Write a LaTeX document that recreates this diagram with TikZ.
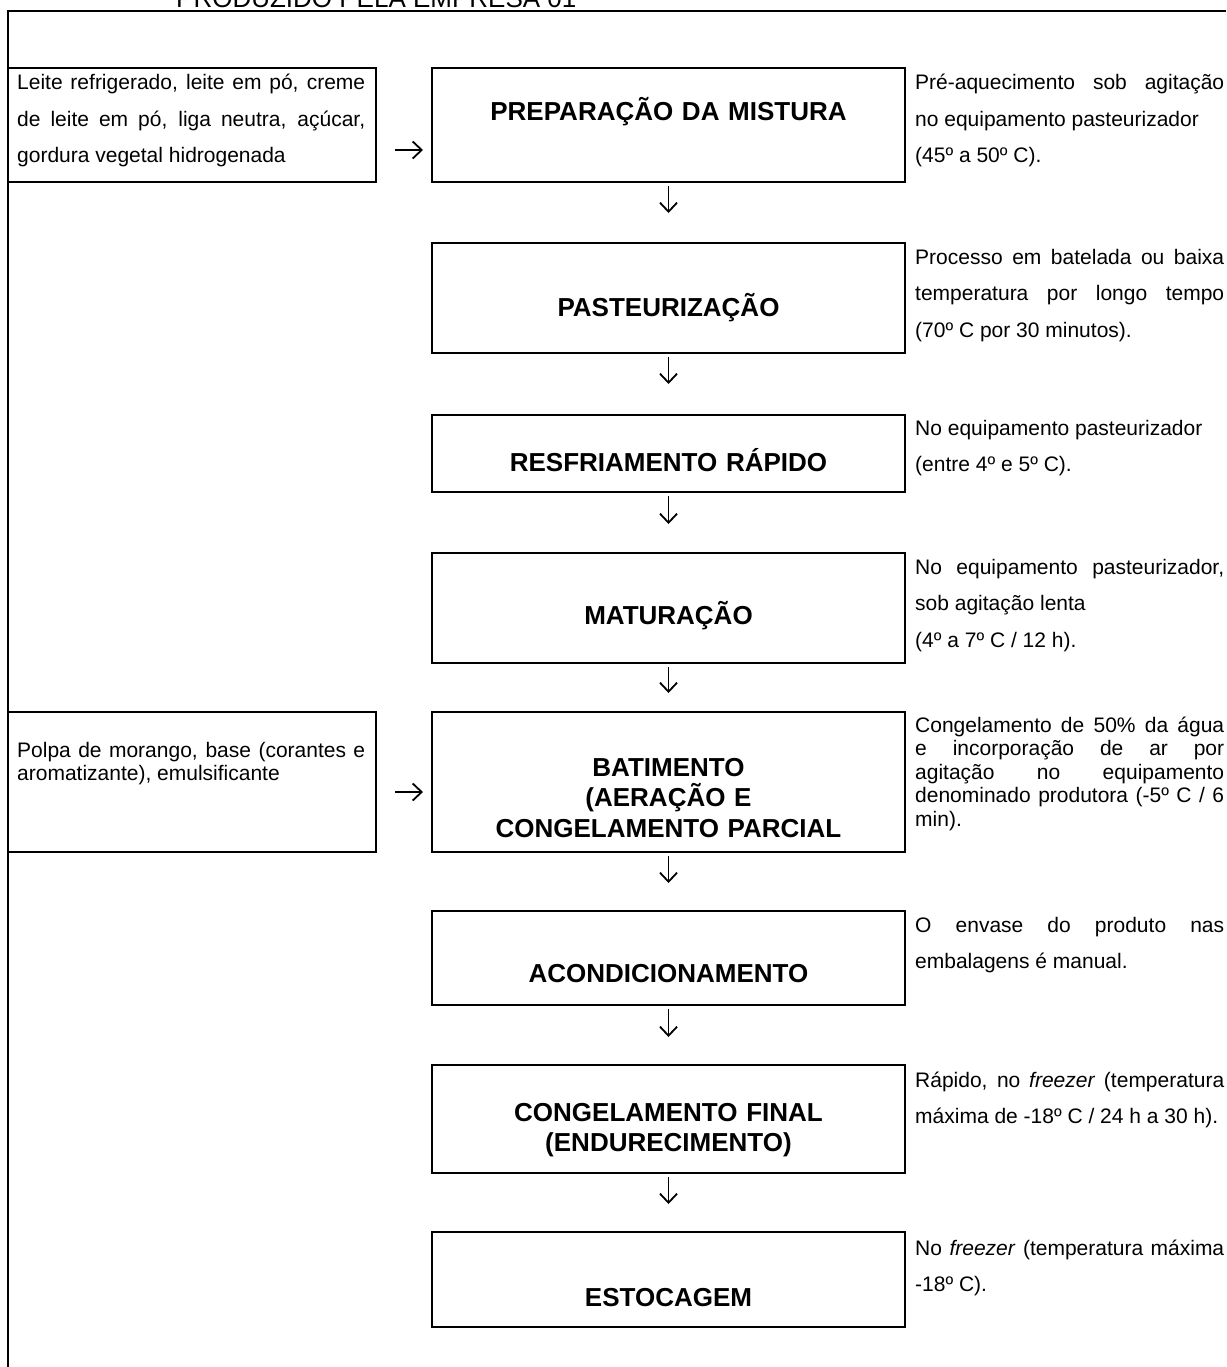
\documentclass[tikz,border=0pt]{standalone}
\usepackage{fontspec}
\setmainfont{Liberation Sans}
\usetikzlibrary{arrows.meta,calc}

% full-width lines of the justified side notes (word spaces may stretch)
\newcommand\justR[1]{\makebox[309pt][s]{\spaceskip=0pt\xspaceskip=0pt\relax#1}}
\newcommand\justL[1]{\makebox[348pt][s]{\spaceskip=0pt\xspaceskip=0pt\relax#1}}

\begin{document}
\begin{tikzpicture}[x=1pt,y=-1pt,
  framepen/.style={line width=2pt},
  stepbox/.style={draw, line width=2pt, minimum width=473pt, inner sep=0pt},
  inbox/.style={draw, line width=2pt, minimum width=368pt, inner sep=0pt},
  steptext/.style={font=\fontsize{26}{30.5}\selectfont\bfseries, text width=473pt,
    align=center, anchor=base, inner sep=0pt},
  notewide/.style={font=\fontsize{21}{36.5}\selectfont, text width=309pt,
    align=justify, anchor=base west, inner sep=0pt},
  notetight/.style={font=\fontsize{21}{23.5}\selectfont, text width=309pt,
    align=justify, anchor=base west, inner sep=0pt},
  inwide/.style={font=\fontsize{21}{36.5}\selectfont, text width=348pt,
    align=justify, anchor=base west, inner sep=0pt},
  intight/.style={font=\fontsize{21}{23.5}\selectfont, text width=348pt,
    align=justify, anchor=base west, inner sep=0pt},
  darr/.style={-{Straight Barb[length=9pt,width=17pt]}, line width=1.8pt, shorten <=3pt},
  harr/.style={-{Straight Barb[length=9pt,width=17pt]}, line width=1.8pt,
    shorten <=18pt, shorten >=8pt}]

\useasboundingbox (0,0) rectangle (1226,1367);

% page heading and outer frame
\node[anchor=base west, inner sep=0pt, font=\fontsize{26}{30}\selectfont]
  (heading) at (176,8) {PRODUZIDO PELA EMPRESA 01};
\coordinate (fr) at (1226,11);
\coordinate (fl) at (8,11);
\coordinate (fb) at (8,1367);
\draw[framepen] (fr) -- (fl) -- (fb);

% process steps
\node[stepbox, minimum height=114pt] (b1) at (668.5,125) {};
\node[stepbox, minimum height=110pt] (b2) at (668.5,298) {};
\node[stepbox, minimum height=77pt]  (b3) at (668.5,453.5) {};
\node[stepbox, minimum height=110pt] (b4) at (668.5,608) {};
\node[stepbox, minimum height=140pt] (b5) at (668.5,782) {};
\node[stepbox, minimum height=94pt]  (b6) at (668.5,958) {};
\node[stepbox, minimum height=108pt] (b7) at (668.5,1119) {};
\node[stepbox, minimum height=95pt]  (b8) at (668.5,1279.5) {};

\node[steptext] (t1) at (668.5,121) {PREPARAÇÃO DA MISTURA};
\node[steptext] (t2) at (668.5,316) {PASTEURIZAÇÃO};
\node[steptext] (t3) at (668.5,471) {RESFRIAMENTO RÁPIDO};
\node[steptext] (t4) at (668.5,624) {MATURAÇÃO};
\node[steptext] (t5) at (668.5,776) {BATIMENTO\\(AERAÇÃO E\\CONGELAMENTO PARCIAL};
\node[steptext] (t6) at (668.5,982) {ACONDICIONAMENTO};
\node[steptext] (t7) at (668.5,1121) {CONGELAMENTO FINAL\\(ENDURECIMENTO)};
\node[steptext] (t8) at (668.5,1306) {ESTOCAGEM};

% ingredient boxes
\node[inbox, minimum height=114pt] (lb1) at (192,125) {};
\node[inbox, minimum height=140pt] (lb2) at (192,782) {};
\node[inwide] (l1) at (17,90)
  {\justL{Leite refrigerado, leite em pó, creme}\\
   \justL{de leite em pó, liga neutra, açúcar,}\\
   gordura vegetal hidrogenada};
\node[intight] (l2) at (17,757)
  {\justL{Polpa de morango, base (corantes e}\\
   aromatizante), emulsificante};

% process conditions
\node[notewide] (r1) at (915,90)
  {\justR{Pré-aquecimento sob agitação}\\
   no equipamento pasteurizador\\
   (45º a 50º C).};
\node[notewide] (r2) at (915,264)
  {\justR{Processo em batelada ou baixa}\\
   \justR{temperatura por longo tempo}\\
   (70º C por 30 minutos).};
\node[notewide] (r3) at (915,435)
  {No equipamento pasteurizador\\
   (entre 4º e 5º C).};
\node[notewide] (r4) at (915,574)
  {\justR{No equipamento pasteurizador,}\\
   sob agitação lenta\\
   (4º a 7º C / 12 h).};
\node[notetight] (r5) at (915,732)
  {\justR{Congelamento de 50\% da água}\\
   \justR{e incorporação de ar por}\\
   \justR{agitação no equipamento}\\
   \justR{denominado produtora (-5º C / 6}\\
   min).};
\node[notewide] (r6) at (915,932)
  {\justR{O envase do produto nas}\\
   embalagens é manual.};
\node[notewide] (r7) at (915,1087)
  {\justR{Rápido, no \textit{freezer} (temperatura}\\
   máxima de -18º C / 24 h a 30 h).};
\node[notewide] (r8) at (915,1255)
  {\justR{No \textit{freezer} (temperatura máxima}\\
   -18º C).};

% flow arrows
\draw[darr, shorten >=29pt] (b1) -- (b2);
\draw[darr, shorten >=30pt] (b2) -- (b3);
\draw[darr, shorten >=28pt] (b3) -- (b4);
\draw[darr, shorten >=18pt] (b4) -- (b5);
\draw[darr, shorten >=27pt] (b5) -- (b6);
\draw[darr, shorten >=27pt] (b6) -- (b7);
\draw[darr, shorten >=27pt] (b7) -- (b8);
\draw[harr] ($(lb1.east)+(0,25)$) -- ($(b1.west)+(0,25)$);
\draw[harr] ($(lb2.east)+(0,10)$) -- ($(b5.west)+(0,10)$);

\end{tikzpicture}
\end{document}
